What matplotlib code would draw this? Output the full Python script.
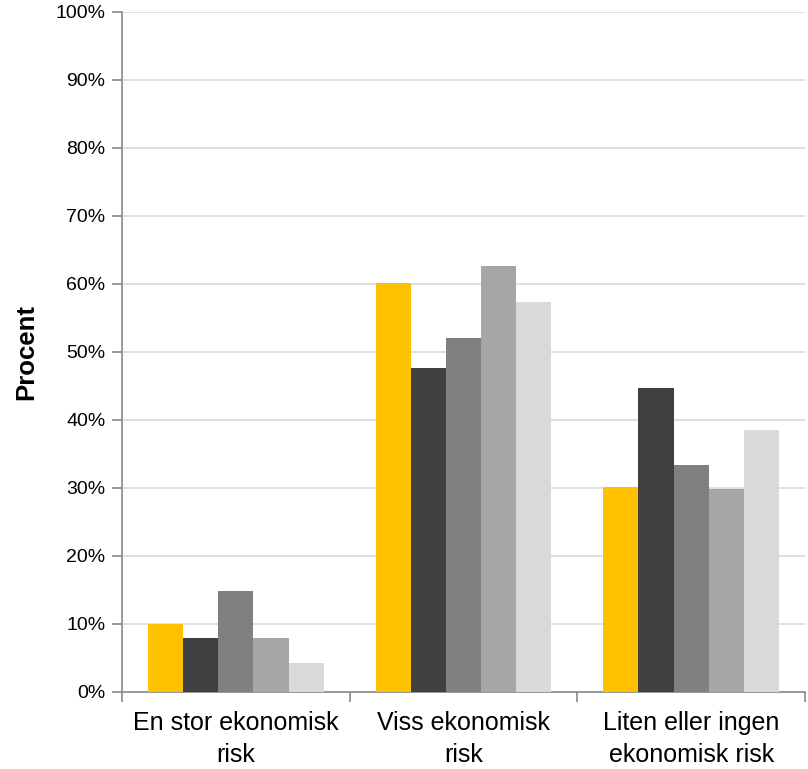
import matplotlib
matplotlib.use("Agg")
import matplotlib.pyplot as plt
import numpy as np

plt.rcParams['font.family'] = ['Liberation Sans', 'DejaVu Sans']

categories = ["En stor ekonomisk\nrisk", "Viss ekonomisk\nrisk", "Liten eller ingen\nekonomisk risk"]
series_a = [10.0, 60.2, 30.1]
series_b = [8.0, 47.6, 44.7]
series_c = [14.9, 52.0, 33.4]
series_d = [7.9, 62.7, 29.8]
series_e = [4.3, 57.4, 38.5]
series = [series_a, series_b, series_c, series_d, series_e]
colors = ["#FFC000", "#404040", "#808080", "#A6A6A6", "#D9D9D9"]
yticks = list(range(0, 101, 10))

fig = plt.figure(figsize=(8.08, 7.69), dpi=100)
ax = fig.add_axes([122 / 808, 1 - 692 / 769, (805 - 122) / 808, (692 - 12) / 769])

x = np.arange(len(categories))
n = len(series)
group_w = 0.772
bw = group_w / n
for i, (vals, c) in enumerate(zip(series, colors)):
    ax.bar(x - group_w / 2 + bw * (i + 0.5), vals, width=bw, color=c, zorder=3)

ax.set_xlim(-0.5, len(categories) - 0.5)
ax.set_ylim(0, 100)
ax.set_yticks(yticks)
ax.set_yticklabels([f"{t}%" for t in yticks], fontsize=14)
ax.yaxis.grid(True, color="#D9D9D9", linewidth=1.2, zorder=0)
ax.set_axisbelow(True)

ax.set_xticks(x)
ax.set_xticklabels(categories, fontsize=18, linespacing=1.4)
ax.tick_params(axis='x', length=0, pad=14)
ax.set_xticks(np.arange(-0.5, len(categories), 1.0), minor=True)
ax.tick_params(axis='x', which='minor', length=7, color="#898989", width=1.2)
ax.tick_params(axis='y', length=7, color="#898989", width=1.2, pad=5)

for side in ("top", "right"):
    ax.spines[side].set_visible(False)
for side in ("left", "bottom"):
    ax.spines[side].set_color("#898989")
    ax.spines[side].set_linewidth(1.2)

ax.set_ylabel("Procent", fontsize=18.5, fontweight="bold", labelpad=12)

fig.savefig("out.png", dpi=100)
